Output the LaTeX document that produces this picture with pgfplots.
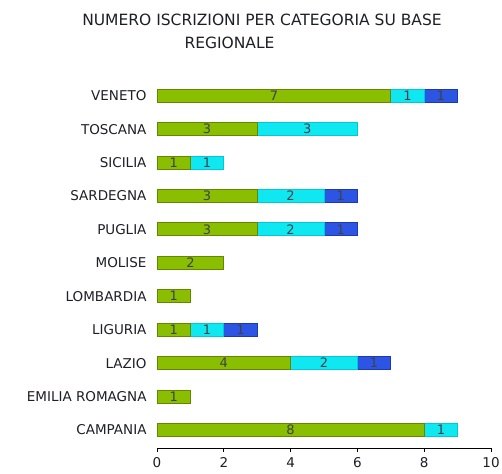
\documentclass[border=0pt]{standalone}
\usepackage{pgfplots}
\pgfplotsset{compat=1.18}
\usepackage{fontspec}
\setmainfont{DejaVu Sans}
\definecolor{gmid}{RGB}{138,190,0}
\definecolor{gdark}{RGB}{100,135,0}
\definecolor{cmid}{RGB}{15,232,240}
\definecolor{cdark}{RGB}{0,200,212}
\definecolor{bmid}{RGB}{45,85,228}
\definecolor{bdark}{RGB}{30,55,180}
\definecolor{txt}{RGB}{30,30,40}
\begin{document}
\begin{tikzpicture}
\useasboundingbox (0,0) rectangle (502bp,474bp);
\node[font=\fontsize{15.5bp}{18bp}\selectfont, text=txt] at (262bp,454bp) {NUMERO ISCRIZIONI PER CATEGORIA SU BASE};
\node[font=\fontsize{15.5bp}{18bp}\selectfont, text=txt] at (229.5bp,431bp) {REGIONALE};
\begin{axis}[
  at={(157bp,26bp)}, anchor=south west,
  scale only axis, width=334bp, height=369bp,
  xbar stacked, bar width=13bp,
  xmin=0, xmax=10, ymin=-0.54, ymax=10.5,
  axis x line*=bottom, axis y line*=left,
  y axis line style={draw=none},
  ytick={0,...,10},
  yticklabels={CAMPANIA,EMILIA ROMAGNA,LAZIO,LIGURIA,LOMBARDIA,MOLISE,PUGLIA,SARDEGNA,SICILIA,TOSCANA,VENETO},
  ytick style={draw=none},
  xtick={0,2,...,10},
  tick align=outside, major tick length=4bp,
  x axis line style={black, line width=0.8bp},
  xtick style={black, line width=0.8bp},
  /pgf/number format/assume math mode=true,
  ticklabel style={font=\fontsize{13.5bp}{16bp}\selectfont, text=txt},
  yticklabel style={xshift=-3bp},
  xticklabel style={yshift=-2bp},
]
\addplot[fill=gmid, draw=gdark, line width=0.9bp] coordinates {
(8,0) (1,1) (4,2) (1,3) (1,4) (2,5) (3,6) (3,7) (1,8) (3,9) (7,10)};
\addplot[fill=cmid, draw=cdark, line width=0.9bp] coordinates {
(1,0) (0,1) (2,2) (1,3) (0,4) (0,5) (2,6) (2,7) (1,8) (3,9) (1,10)};
\addplot[fill=bmid, draw=bdark, line width=0.9bp] coordinates {
(0,0) (0,1) (1,2) (1,3) (0,4) (0,5) (1,6) (1,7) (0,8) (0,9) (1,10)};
\end{axis}
\begin{axis}[
  at={(157bp,26bp)}, anchor=south west,
  scale only axis, width=334bp, height=369bp,
  xmin=0, xmax=10, ymin=-0.54, ymax=10.5,
  hide axis,
]
\addplot[draw=none, mark=none, nodes near coords, point meta=explicit symbolic,
  nodes near coords align={anchor=center},
  every node near coord/.style={font=\fontsize{13bp}{15bp}\selectfont, text=txt!85, anchor=center, inner sep=0pt}]
  table[meta=l] {
x y l
4 0 8
8.5 0 1
0.5 1 1
2 2 4
5 2 2
6.5 2 1
0.5 3 1
1.5 3 1
2.5 3 1
0.5 4 1
1 5 2
1.5 6 3
4 6 2
5.5 6 1
1.5 7 3
4 7 2
5.5 7 1
0.5 8 1
1.5 8 1
1.5 9 3
4.5 9 3
3.5 10 7
7.5 10 1
8.5 10 1
};
\end{axis}
\end{tikzpicture}
\end{document}
